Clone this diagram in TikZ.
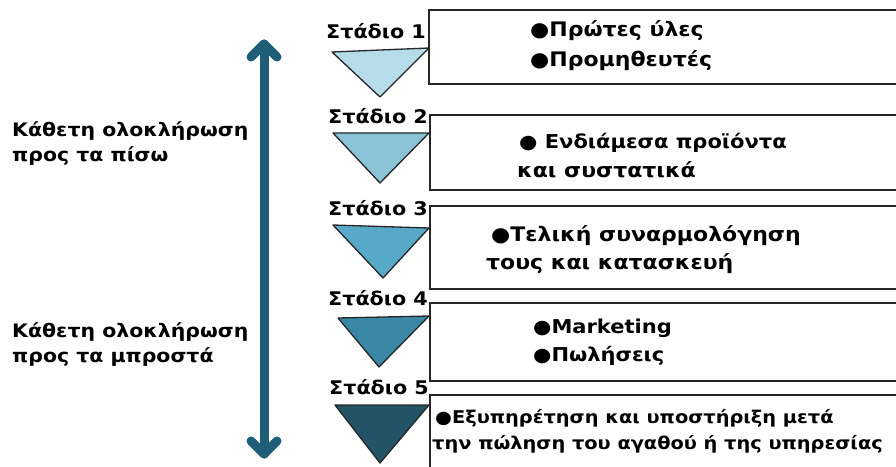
\documentclass[tikz,border=0pt]{standalone}
\usepackage{fontspec}
\setmainfont{DejaVu Sans}
\newfontfamily\widefont[FakeStretch=1.1]{DejaVu Sans}
\begin{document}
\begin{tikzpicture}[x=1pt,y=-1pt,
  box/.style={draw=black!85,line width=1.8pt,fill=white},
  tri/.style={draw=black!85,line width=1.3pt,line join=round},
  stagelbl/.style={anchor=base west,inner sep=0pt,font=\widefont\bfseries\fontsize{18.8}{23}\selectfont},
  boxtxt/.style={anchor=base west,inner sep=0pt,font=\widefont\bfseries\fontsize{20}{24}\selectfont},
  midtxt/.style={anchor=base west,inner sep=0pt,font=\widefont\bfseries\fontsize{19.1}{23}\selectfont},
  smalltxt/.style={anchor=base west,inner sep=0pt,font=\widefont\bfseries\fontsize{17.6}{21}\selectfont},
  sidetxt/.style={anchor=base west,inner sep=0pt,font=\widefont\bfseries\fontsize{18.6}{22}\selectfont},
  bigarrow/.style={draw=arrowc,line width=9pt,line cap=round,line join=round}]
\definecolor{arrowc}{HTML}{1F5E78}
\definecolor{t1}{HTML}{B5DCE8}
\definecolor{t2}{HTML}{8AC3D7}
\definecolor{t3}{HTML}{58A9C8}
\definecolor{t4}{HTML}{3A88A5}
\definecolor{t5}{HTML}{225366}
\useasboundingbox (0,0) rectangle (896,466);
\clip (0,0) rectangle (896,466);
% boxes
\draw[box] (429,10) rectangle (910,84);
\draw[box] (430,115) rectangle (910,190);
\draw[box] (430,206) rectangle (910,289);
\draw[box] (430,303) rectangle (910,381);
\draw[box] (430,395) rectangle (910,480);
% triangles
\draw[tri,fill=t1] (332,52) -- (429,48) -- (380,97) -- cycle;
\draw[tri,fill=t2] (333,133) -- (429,133) -- (380,183) -- cycle;
\draw[tri,fill=t3] (333,225) -- (429,228) -- (383,278) -- cycle;
\draw[tri,fill=t4] (338,318) -- (429,316) -- (379,367) -- cycle;
\draw[tri,fill=t5] (335,405) -- (429,405) -- (380,463) -- cycle;
% stage labels
\node[stagelbl] (s1) at (326,38) {Στάδιο 1};
\node[stagelbl] (s2) at (328,123) {Στάδιο 2};
\node[stagelbl] (s3) at (328,215) {Στάδιο 3};
\node[stagelbl] (s4) at (328,305) {Στάδιο 4};
\node[stagelbl] (s5) at (329,394) {Στάδιο 5};
% box texts
\node[boxtxt] (b1a) at (530,36) {●Πρώτες ύλες};
\node[boxtxt] (b1b) at (530,66) {●Προμηθευτές};
\node[midtxt] (b2a) at (519,148) {● Ενδιάμεσα προϊόντα};
\node[boxtxt] (b2b) at (517,177) {και συστατικά};
\node[boxtxt] (b3a) at (491,241) {●Τελική συναρμολόγηση};
\node[boxtxt] (b3b) at (486,269) {τους και κατασκευή};
\node[midtxt] (b4a) at (533,333) {●Marketing};
\node[midtxt] (b4b) at (533,361) {●Πωλήσεις};
\node[smalltxt] (b5a) at (435,423) {●Εξυπηρέτηση και υποστήριξη μετά};
\node[smalltxt] (b5b) at (432,449) {την πώληση του αγαθού ή της υπηρεσίας};
% side texts
\node[sidetxt] (l1a) at (12,136) {Κάθετη ολοκλήρωση};
\node[sidetxt] (l1b) at (12,161) {προς τα πίσω};
\node[sidetxt] (l2a) at (12,337) {Κάθετη ολοκλήρωση};
\node[sidetxt] (l2b) at (12,362) {προς τα μπροστά};
% big double arrow
\coordinate (atop) at (264,44);
\coordinate (abot) at (264,454);
\draw[bigarrow] (atop) -- (abot);
\draw[bigarrow] (251,57) -- (atop) -- (277,57);
\draw[bigarrow] (251,441) -- (abot) -- (277,441);
\end{tikzpicture}
\end{document}
